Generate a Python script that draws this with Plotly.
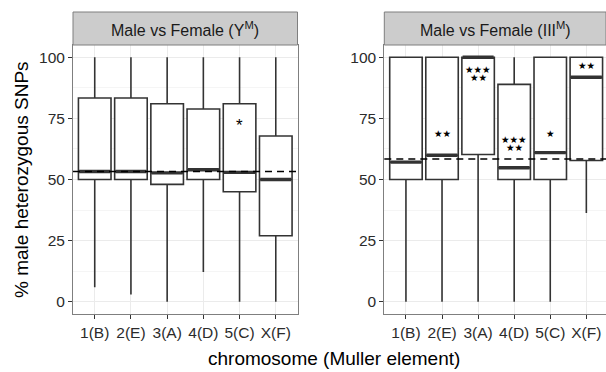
import plotly.graph_objects as go

# Muller-element chromosomes shown on both panels
chromosomes = ["1(B)", "2(E)", "3(A)", "4(D)", "5(C)", "X(F)"]

# Panel 1: Male vs Female (Y^M) — box summary statistics (% male heterozygous SNPs)
ym_lower = [5.9, 3.0, 0.0, 12.2, 0.0, 0.0]
ym_q1 = [50.0, 50.0, 48.0, 50.0, 45.0, 27.0]
ym_median = [53.3, 53.3, 52.7, 54.0, 52.9, 50.0]
ym_q3 = [83.3, 83.3, 81.0, 78.8, 81.0, 67.8]
ym_upper = [100.0, 100.0, 100.0, 100.0, 100.0, 100.0]
ym_genome = 53.3
ym_signif = [(5, 72.0, "*")]

# Panel 2: Male vs Female (III^M)
iii_lower = [0.0, 0.0, 0.0, 0.0, 0.0, 36.3]
iii_q1 = [50.0, 50.0, 60.2, 50.0, 50.0, 57.8]
iii_median = [57.1, 59.9, 100.0, 54.8, 61.0, 91.8]
iii_q3 = [100.0, 100.0, 100.0, 88.9, 100.0, 100.0]
iii_upper = [100.0, 100.0, 100.0, 100.0, 100.0, 100.0]
iii_genome = 58.4
iii_signif = [(2, 68.7, "★★"), (3, 94.8, "★★★"), (3, 91.6, "★★"),
              (4, 66.4, "★★★"), (4, 63.2, "★★"), (5, 68.7, "★"), (6, 96.6, "★★")]

y_ticks = [0, 25, 50, 75, 100]

W, H = 606, 372
FONT = "Liberation Sans, Arial, Helvetica, sans-serif"
LINE = "#333333"
BOX_W = 0.9

positions = list(range(1, len(chromosomes) + 1))

# panel geometry (pixels) -> paper fractions
y_dom = [(H - 314) / H, (H - 45) / H]
strip_top = (H - 12) / H
x_dom_left = [73 / W, 297.5 / W]
x_dom_right = [384.3 / W, 1.0]

fig = go.Figure()


def add_panel(lower, q1, med, q3, upper, xa, ya):
    fig.add_trace(go.Box(
        x=positions, lowerfence=lower, q1=q1, median=med, q3=q3, upperfence=upper,
        width=BOX_W, whiskerwidth=0, fillcolor="white",
        line=dict(color=LINE, width=1.6), boxpoints=False,
        xaxis=xa, yaxis=ya, showlegend=False, hoverinfo="skip",
    ))
    # thicker median bars
    mx, my = [], []
    for p, m in zip(positions, med):
        mx += [p - BOX_W / 2 + 0.02, p + BOX_W / 2 - 0.02, None]
        my += [m, m, None]
    fig.add_trace(go.Scatter(
        x=mx, y=my, mode="lines", line=dict(color=LINE, width=3.4),
        xaxis=xa, yaxis=ya, showlegend=False, hoverinfo="skip",
    ))


add_panel(ym_lower, ym_q1, ym_median, ym_q3, ym_upper, "x", "y")
add_panel(iii_lower, iii_q1, iii_median, iii_q3, iii_upper, "x2", "y2")

axis_common = dict(
    showgrid=True, gridcolor="#ebebeb", gridwidth=1,
    showline=True, mirror=True, linecolor="#7f7f7f", linewidth=1,
    ticks="outside", ticklen=4, tickwidth=1, tickcolor=LINE,
    tickfont=dict(family=FONT, size=15.5, color="#2b2b2b"),
    zeroline=False, fixedrange=True,
)
y_common = dict(axis_common, range=[-5, 105], tickvals=y_ticks,
                minor=dict(tickvals=[12.5, 37.5, 62.5, 87.5], showgrid=True,
                           gridcolor="#f5f5f5", gridwidth=0.6, ticks=""),
                domain=y_dom)
x_common = dict(axis_common, tickvals=positions, ticktext=chromosomes)

fig.update_layout(
    width=W, height=H, margin=dict(l=0, r=0, t=0, b=0),
    paper_bgcolor="white", plot_bgcolor="white",
    font=dict(family=FONT, color="#000000"),
    xaxis=dict(x_common, domain=x_dom_left, range=[0.4, 6.6], anchor="y"),
    yaxis=dict(y_common, anchor="x"),
    xaxis2=dict(x_common, domain=x_dom_right, range=[0.4, 6.545], anchor="y2"),
    yaxis2=dict(y_common, anchor="x2"),
)

# genome-wide reference lines
for xref, yref, val in [("x", "y", ym_genome), ("x2", "y2", iii_genome)]:
    fig.add_shape(type="line", xref=xref + " domain", yref=yref,
                  x0=0, x1=1, y0=val, y1=val, layer="above",
                  line=dict(color="black", width=1.6, dash="7px,5px"))

# facet strips
for xref, label in [("x", "Male vs Female (Y<sup>M</sup>)"),
                    ("x2", "Male vs Female (III<sup>M</sup>)")]:
    fig.add_shape(type="rect", xref=xref + " domain", yref="paper",
                  x0=0, x1=1, y0=y_dom[1], y1=strip_top,
                  fillcolor="#cccccc", line=dict(color="#7f7f7f", width=1))
    fig.add_annotation(xref=xref + " domain", yref="paper", x=0.5,
                       y=(y_dom[1] + strip_top) / 2, text=label, showarrow=False,
                       font=dict(family=FONT, size=16, color="#1a1a1a"),
                       xanchor="center", yanchor="middle")

# significance marks
for x, y, t in ym_signif:
    fig.add_annotation(xref="x", yref="y", x=x, y=y, text=t, showarrow=False,
                       font=dict(family=FONT, size=17, color="black"),
                       xanchor="center", yanchor="middle")
for x, y, t in iii_signif:
    fig.add_annotation(xref="x2", yref="y2", x=x, y=y, text=t, showarrow=False,
                       font=dict(family="DejaVu Sans", size=9.5, color="black"),
                       xanchor="center", yanchor="middle")

# axis titles
fig.add_annotation(xref="paper", yref="paper", x=334 / W, y=(H - 358) / H,
                   text="chromosome (Muller element)", showarrow=False,
                   font=dict(family=FONT, size=19, color="black"),
                   xanchor="center", yanchor="middle")
fig.add_annotation(xref="paper", yref="paper", x=21 / W, y=(H - 180) / H,
                   text="% male heterozygous SNPs", showarrow=False, textangle=-90,
                   font=dict(family=FONT, size=19, color="black"),
                   xanchor="center", yanchor="middle")

fig.write_html("out.html")
